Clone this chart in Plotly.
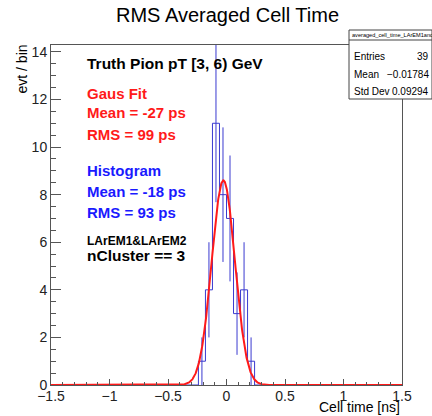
import numpy as np
import plotly.graph_objects as go

# ---------------- data ----------------
x_range = [-1.5, 1.5]
bin_width = 0.06
bin_lo_edges = [-0.24, -0.18, -0.12, -0.06, 0.0, 0.06, 0.12, 0.18]
counts = [1, 4, 11, 8, 7, 3, 4, 1]

fit_amplitude = 8.6
fit_mean = -0.027
fit_sigma = 0.099

x_tick_vals = [-1.5, -1, -0.5, 0, 0.5, 1, 1.5]
x_tick_text = ["\u22121.5", "\u22121", "\u22120.5", "0", "0.5", "1", "1.5"]
y_tick_vals = [0, 2, 4, 6, 8, 10, 12, 14]

stats_name = "averaged_cell_time_LArEM1and"
stats_labels = ["Entries", "Mean", "Std Dev"]
stats_values = ["39", "\u22120.01784", "0.09294"]

title = "RMS Averaged Cell Time"
# --------------------------------------

W, H = 432, 416
L, R, T, B = 51, 402, 45, 385
y_top = 14.29

def px(x):
    return (x - L) / (R - L)

def py(y):
    return (B - y) / (B - T)

BLUE = "#3a3ad0"
RED = "#ff1a1a"
FONT = "Liberation Sans, Arial, sans-serif"

fig = go.Figure()

# histogram outline (steps)
edges = bin_lo_edges + [bin_lo_edges[-1] + bin_width]
step_x = [x_range[0]] + edges + [x_range[1]]
step_y = [0] + counts + [0, 0]
fig.add_trace(go.Scatter(x=step_x, y=step_y, mode="lines", line=dict(color=BLUE, width=1, shape="hv"),
                         hoverinfo="skip", showlegend=False))

# error bars
centers = [e + bin_width / 2 for e in bin_lo_edges]
errs = [np.sqrt(c) for c in counts]
fig.add_trace(go.Scatter(x=centers, y=counts, mode="markers", marker=dict(size=0.1, color=BLUE),
                         error_y=dict(type="data", array=errs, visible=True, width=0, thickness=1, color=BLUE),
                         hoverinfo="skip", showlegend=False))

# Gaussian fit curve
gx = np.linspace(x_range[0], x_range[1], 1201)
gy = fit_amplitude * np.exp(-0.5 * ((gx - fit_mean) / fit_sigma) ** 2)
fig.add_trace(go.Scatter(x=gx, y=gy, mode="lines", line=dict(color=RED, width=2),
                         hoverinfo="skip", showlegend=False))

axis_common = dict(showgrid=False, zeroline=False, showline=True, linecolor="#555", linewidth=1,
                   mirror=True, ticks="inside", tickcolor="#555",
                   tickfont=dict(family=FONT, size=14, color="#222"))

fig.update_xaxes(range=x_range, tickvals=x_tick_vals, ticktext=x_tick_text, ticklen=6,
                 ticklabelstandoff=-2,
                 minor=dict(ticks="inside", dtick=0.1, ticklen=3, tickcolor="#555"), **axis_common)
fig.update_yaxes(range=[0, y_top], tickvals=y_tick_vals, ticklen=10,
                 minor=dict(ticks="inside", dtick=0.5, ticklen=5, tickcolor="#555"), **axis_common)

ann = []
def text(x, y, s, size, color="black", bold=True, xanchor="left", yanchor="middle", angle=0):
    ann.append(dict(x=px(x), y=py(y), xref="paper", yref="paper", text=(f"<b>{s}</b>" if bold else s),
                    showarrow=False, xanchor=xanchor, yanchor=yanchor, textangle=angle,
                    font=dict(family=FONT, size=size, color=color)))

text(227, 15, title, 20, bold=False, xanchor="center")
text(85, 63, "Truth Pion pT [3, 6) GeV", 15.5)
text(85, 93, "Gaus Fit", 15, RED)
text(85, 113, "Mean = -27 ps", 15, RED)
text(85, 134, "RMS = 99 ps", 15, RED)
text(85, 170, "Histogram", 15, "#1a1aff")
text(85, 191, "Mean = -18 ps", 15, "#1a1aff")
text(85, 212, "RMS = 93 ps", 15, "#1a1aff")
text(85, 241, "LArEM1&LArEM2", 12)
text(85, 255, "nCluster == 3", 15.5)
text(402, 407, "Cell time [ns]", 14, bold=False, xanchor="right")
text(21, 43, "evt / bin", 14, bold=False, xanchor="center", yanchor="top", angle=-90)

# stats box
bx0, bx1, by0, by1 = 349, 432, 30, 99
shapes = [
    dict(type="rect", xref="paper", yref="paper", x0=px(bx0), x1=px(bx1), y0=py(by1), y1=py(by0),
         line=dict(color="#444", width=1), fillcolor="white", layer="above"),
    dict(type="line", xref="paper", yref="paper", x0=px(bx0), x1=px(bx1), y0=py(40), y1=py(40),
         line=dict(color="#444", width=1), layer="above"),
]
text(350, 35, stats_name, 5.6, bold=False)
for i, (lab, val) in enumerate(zip(stats_labels, stats_values)):
    yy = 57 + i * 17.5
    text(352, yy, lab, 10, bold=False)
    text(431, yy, val, 10, bold=False, xanchor="right")

fig.update_layout(width=W, height=H, margin=dict(l=L, r=W - R, t=T, b=H - B),
                  paper_bgcolor="white", plot_bgcolor="white",
                  annotations=ann, shapes=shapes, showlegend=False)

fig.write_html("out.html", config={"displayModeBar": False},
               post_script="document.body.style.margin='0px';document.body.style.padding='0px';")
